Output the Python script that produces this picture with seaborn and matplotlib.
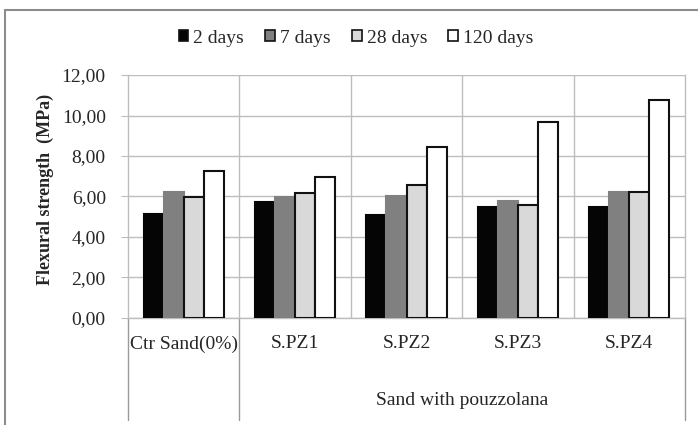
import pandas as pd
import numpy as np
import matplotlib.pyplot as plt
import seaborn as sns
from matplotlib.patches import Patch
from matplotlib.lines import Line2D

# data
categories = ['Ctr Sand(0%)', 'S.PZ1', 'S.PZ2', 'S.PZ3', 'S.PZ4']
ages = ['2 days', '7 days', '28 days', '120 days']
days_2 = [5.14, 5.71, 5.07, 5.50, 5.47]
days_7 = [6.24, 5.99, 6.02, 5.78, 6.21]
days_28 = [5.96, 6.19, 6.58, 5.56, 6.22]
days_120 = [7.27, 6.95, 8.43, 9.70, 10.75]
y_ticks = [0, 2, 4, 6, 8, 10, 12]
y_tick_labels = ['0,00', '2,00', '4,00', '6,00', '8,00', '10,00', '12,00']

colors = ['#050505', '#808080', '#d9d9d9', '#ffffff']
edges = ['#050505', '#808080', '#111111', '#111111']

rows = []
for age, vals in zip(ages, [days_2, days_7, days_28, days_120]):
    for cat, v in zip(categories, vals):
        rows.append({'cat': cat, 'age': age, 'value': v})
df = pd.DataFrame(rows)

sns.set_style('white')
plt.rcParams['font.family'] = ['Liberation Serif', 'DejaVu Serif']

fig = plt.figure(figsize=(6.98, 4.25), dpi=100)
ax = fig.add_axes([0.1834, 0.2518, 0.7980, 0.5717])

sns.barplot(data=df, x='cat', y='value', hue='age', order=categories, hue_order=ages,
            palette=colors, width=0.72, gap=0, legend=False, ax=ax, zorder=3)

for cont, ec in zip(ax.containers, edges):
    for bar in cont:
        bar.set_edgecolor(ec)
        bar.set_linewidth(1.5)

grid_c = '#bdbdbd'
ax.set_ylim(0, 12)
ax.set_xlim(-0.5, len(categories) - 0.5)
ax.set_yticks(y_ticks)
ax.set_yticklabels(y_tick_labels, fontsize=14)
ax.yaxis.grid(True, color=grid_c, linewidth=1, zorder=0)
for b in np.arange(0.5, len(categories) - 0.5, 1):
    ax.axvline(b, color=grid_c, linewidth=1, zorder=0)
ax.tick_params(axis='y', left=True, length=5, color=grid_c, pad=11)
ax.tick_params(axis='x', bottom=False, pad=9)
ax.set_xticks(range(len(categories)))
ax.set_xticklabels(categories, fontsize=14)
for s in ['left', 'right', 'bottom']:
    ax.spines[s].set_color(grid_c)
    ax.spines[s].set_linewidth(1)
ax.spines['top'].set_visible(False)
ax.set_xlabel('')
ax.set_ylabel('Flexural strength  (MPa)', fontsize=13, fontweight='bold')
ax.yaxis.set_label_coords(-0.132, 0.53)

# multi-level category axis separators
for xb in [-0.5, 0.5, len(categories) - 0.5]:
    ax.plot([xb, xb], [0, -0.42], transform=ax.get_xaxis_transform(),
            color='#999999', linewidth=1, clip_on=False)
ax.text(2.5, -0.34, 'Sand with pouzzolana', transform=ax.get_xaxis_transform(),
        ha='center', va='center', fontsize=14)

handles = [Patch(facecolor=c, edgecolor='#111111', linewidth=1.2) for c in colors]
fig.legend(handles, ages, loc='center', bbox_to_anchor=(0.51, 0.91), ncol=4,
           frameon=False, fontsize=14, handlelength=0.5, handleheight=0.5,
           handletextpad=0.25, columnspacing=1.1)

# outer chart frame
fig.add_artist(Line2D([5 / 698, 5 / 698], [0, 1 - 10 / 425], color='#8c8c8c', linewidth=1.5))
fig.add_artist(Line2D([5 / 698, 1], [1 - 10 / 425, 1 - 10 / 425], color='#8c8c8c', linewidth=1.5))

fig.savefig('out.png', dpi=100)
